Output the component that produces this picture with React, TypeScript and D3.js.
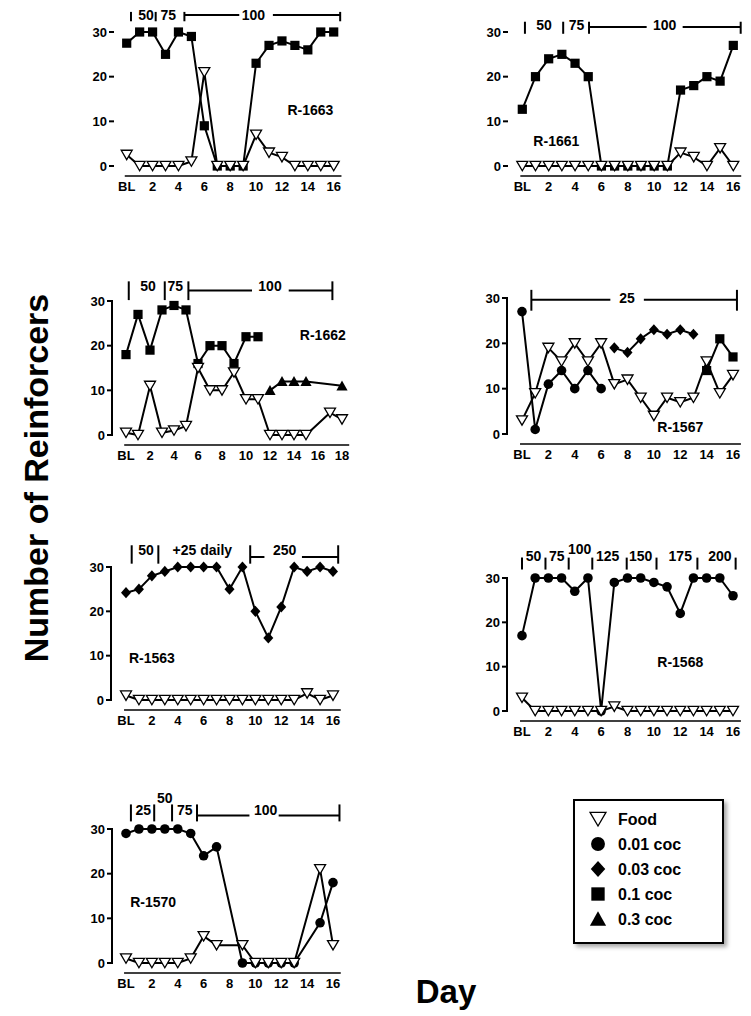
import React from 'react';
import * as d3 from 'd3';

const FONT = '"Liberation Sans", Arial, Helvetica, sans-serif';

type V = number | null;
type Ann = { k: 'tick' | 'text' | 'line'; d: number; d2?: number; t?: string; v?: number };

// ---------- R-1663 ----------
const r1663Food: V[] = [2.5, 0, 0, 0, 0, 1, 21, 0, 0, 0, 7, 3, 2, 0, 0, 0, 0];
const r1663Coc01: V[] = [27.5, 30, 30, 25, 30, 29, 9, 0, 0, 0, 23, 27, 28, 27, 26, 30, 30];
const r1663Doses: Ann[] = [
  { k: 'tick', d: 0.33 }, { k: 'text', d: 1.5, t: '50' }, { k: 'tick', d: 2.24 },
  { k: 'text', d: 3.22, t: '75' }, { k: 'tick', d: 4.46 }, { k: 'line', d: 4.46, d2: 8.7 },
  { k: 'text', d: 9.8, t: '100' }, { k: 'line', d: 11.3, d2: 16.5 }, { k: 'tick', d: 16.5 },
];

// ---------- R-1661 ----------
const r1661Food: V[] = [0, 0, 0, 0, 0, 0, 0, 0, 0, 0, 0, 0, 3, 2, 0, 4, 0];
const r1661Coc01: V[] = [12.7, 20, 24, 25, 23, 20, 0, 0, 0, 0, 0, 0, 17, 18, 20, 19, 27];
const r1661Doses: Ann[] = [
  { k: 'tick', d: 0.2 }, { k: 'text', d: 1.64, t: '50' }, { k: 'tick', d: 3.1 },
  { k: 'text', d: 4.12, t: '75' }, { k: 'tick', d: 5.06 }, { k: 'line', d: 5.06, d2: 9.43 },
  { k: 'text', d: 10.8, t: '100' }, { k: 'line', d: 12.16, d2: 16.56 }, { k: 'tick', d: 16.56 },
];

// ---------- R-1662 ----------
const r1662Food: V[] = [0.5, 0, 11, 0.5, 1, 2, 15, 10, 10, 14, 8, 8, 0, 0, 0, 0, null, 5, 3.5];
const r1662Coc01: V[] = [18, 27, 19, 28, 29, 28, 16, 20, 20, 16, 22, 22];
const r1662Coc03: V[] = [null, null, null, null, null, null, null, null, null, null, null, null, 10, 12, 12, 12, null, null, 11];
const r1662Doses: Ann[] = [
  { k: 'tick', d: 0.23 }, { k: 'text', d: 1.83, t: '50' }, { k: 'tick', d: 3.23 },
  { k: 'text', d: 4.1, t: '75' }, { k: 'tick', d: 5.2 }, { k: 'line', d: 5.2, d2: 10.5 },
  { k: 'text', d: 12.0, t: '100' }, { k: 'line', d: 13.56, d2: 17.2 }, { k: 'tick', d: 17.2 },
];

// ---------- R-1567 ----------
const r1567Food: V[] = [3, 9, 19, 16, 20, 16, 20, 11, 12, 8, 4, 8, 7, 8, 16, 9, 13];
const r1567Coc001: V[] = [27, 1, 11, 14, 10, 14, 10];
const r1567Coc003: V[] = [null, null, null, null, null, null, null, 19, 18, 21, 23, 22, 23, 22];
const r1567Coc01: V[] = [null, null, null, null, null, null, null, null, null, null, null, null, null, null, 14, 21, 17];
const r1567Doses: Ann[] = [
  { k: 'tick', d: 0.71 }, { k: 'line', d: 0.71, d2: 6.7 }, { k: 'text', d: 7.96, t: '25' },
  { k: 'line', d: 9.24, d2: 16.3 }, { k: 'tick', d: 16.3 },
];

// ---------- R-1563 ----------
const r1563Food: V[] = [1, 0, 0, 0, 0, 0, 0, 0, 0, 0, 0, 0, 0, 0, 1.5, 0, 1];
const r1563Coc003: V[] = [24.2, 25, 28, 29, 30, 30, 30, 30, 25, 30, 20, 14, 21, 30, 29, 30, 29];
const r1563Doses: Ann[] = [
  { k: 'tick', d: 0.44 }, { k: 'text', d: 1.54, t: '50' }, { k: 'tick', d: 2.5 },
  { k: 'text', d: 5.9, t: '+25 daily' }, { k: 'tick', d: 9.6 }, { k: 'line', d: 9.6, d2: 10.7 },
  { k: 'text', d: 12.26, t: '250' }, { k: 'line', d: 13.6, d2: 16.4 }, { k: 'tick', d: 16.4 },
];

// ---------- R-1568 ----------
const r1568Food: V[] = [3, 0, 0, 0, 0, 0, 0, 1, 0, 0, 0, 0, 0, 0, 0, 0, 0];
const r1568Coc001: V[] = [17, 30, 30, 30, 27, 30, 0, 29, 30, 30, 29, 28, 22, 30, 30, 30, 26];
const r1568Doses: Ann[] = [
  { k: 'tick', d: 0 }, { k: 'text', d: 0.88, t: '50' }, { k: 'tick', d: 1.78 },
  { k: 'text', d: 2.64, t: '75' }, { k: 'tick', d: 3.54 }, { k: 'text', d: 4.37, t: '100', v: 36.5 },
  { k: 'tick', d: 5.33 }, { k: 'text', d: 6.5, t: '125' }, { k: 'tick', d: 7.94 },
  { k: 'text', d: 9.0, t: '150' }, { k: 'tick', d: 10.2 }, { k: 'text', d: 12.0, t: '175' },
  { k: 'tick', d: 13.3 }, { k: 'text', d: 15.0, t: '200' }, { k: 'tick', d: 16.2 },
];

// ---------- R-1570 ----------
const r1570Food: V[] = [1, 0, 0, 0, 0, 1, 6, 4, null, 4, 0, 0, 0, 0, null, 21, 4];
const r1570Coc001: V[] = [29, 30, 30, 30, 30, 29, 24, 26, null, 0, 0, 0, 0, 0, null, 9, 18];
const r1570Doses: Ann[] = [
  { k: 'tick', d: 0.38 }, { k: 'text', d: 1.33, t: '25' }, { k: 'tick', d: 2.18 },
  { k: 'text', d: 3.0, t: '50', v: 37 }, { k: 'tick', d: 3.56 }, { k: 'text', d: 4.54, t: '75' },
  { k: 'tick', d: 5.49 }, { k: 'line', d: 5.49, d2: 9.54 }, { k: 'text', d: 10.8, t: '100' },
  { k: 'line', d: 11.8, d2: 16.5 }, { k: 'tick', d: 16.5 },
];

const yTicks = [0, 10, 20, 30];
const legendLabels = ['Food', '0.01 coc', '0.03 coc', '0.1 coc', '0.3 coc'];
const legendSymbols = ['food', 'circle', 'diamond', 'square', 'tri'];

type Sym = 'food' | 'circle' | 'diamond' | 'square' | 'tri';
type Series = { vals: V[]; sym: Sym };
type PanelCfg = {
  name: string; nameDay: number; nameV: number;
  x0: number; x1: number; dayMax: number; y0: number; y30: number; axisX: number; yLine: boolean;
  series: Series[]; doses: Ann[];
  textV: number; lineV: number; tickTop: number; tickBot: number;
};

const panels: PanelCfg[] = [
  { name: 'R-1663', nameDay: 14.2, nameV: 12.5, x0: 126.7, x1: 333.7, dayMax: 16, y0: 166, y30: 32, axisX: 114, yLine: false,
    series: [{ vals: r1663Coc01, sym: 'square' }, { vals: r1663Food, sym: 'food' }], doses: r1663Doses,
    textV: 33.8, lineV: 33.8, tickTop: 34.5, tickBot: 32.4 },
  { name: 'R-1661', nameDay: 2.58, nameV: 5.6, x0: 522.3, x1: 733.3, dayMax: 16, y0: 166, y30: 32, axisX: 508, yLine: false,
    series: [{ vals: r1661Coc01, sym: 'square' }, { vals: r1661Food, sym: 'food' }], doses: r1661Doses,
    textV: 31.5, lineV: 31.1, tickTop: 32.3, tickBot: 29.6 },
  { name: 'R-1662', nameDay: 16.4, nameV: 22.4, x0: 126, x1: 342, dayMax: 18, y0: 435, y30: 301, axisX: 112, yLine: true,
    series: [{ vals: r1662Coc01, sym: 'square' }, { vals: r1662Coc03, sym: 'tri' }, { vals: r1662Food, sym: 'food' }], doses: r1662Doses,
    textV: 33.3, lineV: 32.35, tickTop: 34.4, tickBot: 30.2 },
  { name: 'R-1567', nameDay: 12.0, nameV: 1.5, x0: 522, x1: 733, dayMax: 16, y0: 434, y30: 298, axisX: 507, yLine: true,
    series: [{ vals: r1567Coc001, sym: 'circle' }, { vals: r1567Coc003, sym: 'diamond' }, { vals: r1567Coc01, sym: 'square' }, { vals: r1567Food, sym: 'food' }], doses: r1567Doses,
    textV: 30, lineV: 29.6, tickTop: 31.8, tickBot: 27.2 },
  { name: 'R-1563', nameDay: 2.0, nameV: 9.5, x0: 126, x1: 333, dayMax: 16, y0: 700, y30: 567, axisX: 111, yLine: true,
    series: [{ vals: r1563Coc003, sym: 'diamond' }, { vals: r1563Food, sym: 'food' }], doses: r1563Doses,
    textV: 33.9, lineV: 32.25, tickTop: 34.9, tickBot: 30.75 },
  { name: 'R-1568', nameDay: 12, nameV: 11, x0: 522, x1: 733, dayMax: 16, y0: 711, y30: 578, axisX: 507, yLine: true,
    series: [{ vals: r1568Coc001, sym: 'circle' }, { vals: r1568Food, sym: 'food' }], doses: r1568Doses,
    textV: 35, lineV: 35, tickTop: 34.6, tickBot: 31.9 },
  { name: 'R-1570', nameDay: 2.1, nameV: 13.7, x0: 126, x1: 333, dayMax: 16, y0: 963, y30: 829, axisX: 112, yLine: true,
    series: [{ vals: r1570Coc001, sym: 'circle' }, { vals: r1570Food, sym: 'food' }], doses: r1570Doses,
    textV: 34.35, lineV: 33, tickTop: 35.5, tickBot: 31.7 },
];

function Marker({ sym, x, y, scale = 1 }: { sym: Sym; x: number; y: number; scale?: number }) {
  const t = `translate(${x},${y}) scale(${scale})`;
  if (sym === 'food') return <path transform={t} d="M-5.5,-4.6L5.5,-4.6L0,4.8Z" fill="#fff" stroke="#000" strokeWidth={1.3 / scale} strokeLinejoin="miter" />;
  if (sym === 'circle') return <circle transform={t} r={4.8} fill="#000" />;
  if (sym === 'square') return <rect transform={t} x={-4.6} y={-4.6} width={9.2} height={9.2} fill="#000" />;
  if (sym === 'diamond') return <path transform={t} d="M0,-5.6L5,0L0,5.6L-5,0Z" fill="#000" />;
  return <path transform={t} d="M0,-5.4L5.6,4.6L-5.6,4.6Z" fill="#000" />;
}

function Panel({ c }: { c: PanelCfg }) {
  const x = d3.scaleLinear().domain([0, c.dayMax]).range([c.x0, c.x1]);
  const y = d3.scaleLinear().domain([0, 30]).range([c.y0, c.y30]);
  const xTicks = d3.range(0, c.dayMax + 1, 2);
  const axisY = c.y0 + 10;
  const line = d3.line<[number, number]>().x(d => x(d[0])).y(d => y(d[1]));
  return (
    <g>
      {c.yLine && <line x1={c.axisX} x2={c.axisX} y1={y(0) + 1} y2={y(30) - 1} stroke="#000" strokeWidth={2} />}
      {yTicks.map(v => (
        <g key={v}>
          <line x1={c.axisX - 5} x2={c.axisX} y1={y(v)} y2={y(v)} stroke="#000" strokeWidth={2} />
          <text x={c.axisX - 7} y={y(v)} dy="0.36em" textAnchor="end" fontSize={13} fontWeight="bold" fontFamily={FONT}>{v}</text>
        </g>
      ))}
      <line x1={x(-0.15)} x2={x(c.dayMax + 0.6)} y1={axisY} y2={axisY} stroke="#000" strokeWidth={1.5} />
      {xTicks.map(d => (
        <text key={d} x={x(d)} y={axisY + 15} textAnchor="middle" fontSize={13} fontWeight="bold" fontFamily={FONT}>{d === 0 ? 'BL' : d}</text>
      ))}
      {c.series.map((s, i) => {
        const pts = s.vals.map((v, d) => [d, v] as [number, V]).filter(p => p[1] !== null) as [number, number][];
        return (
          <g key={i}>
            <path d={line(pts) || ''} fill="none" stroke="#000" strokeWidth={2} />
            {pts.map(p => <Marker key={p[0]} sym={s.sym} x={x(p[0])} y={y(p[1])} />)}
          </g>
        );
      })}
      <text x={x(c.nameDay)} y={y(c.nameV)} dy="0.36em" textAnchor="middle" fontSize={14} fontWeight="bold" fontFamily={FONT}>{c.name}</text>
      {c.doses.map((a, i) => {
        if (a.k === 'tick') return <line key={i} x1={x(a.d)} x2={x(a.d)} y1={y(c.tickTop)} y2={y(c.tickBot)} stroke="#000" strokeWidth={2} />;
        if (a.k === 'line') return <line key={i} x1={x(a.d)} x2={x(a.d2!)} y1={y(c.lineV)} y2={y(c.lineV)} stroke="#000" strokeWidth={2} />;
        return <text key={i} x={x(a.d)} y={y(a.v ?? c.textV)} dy="0.36em" textAnchor="middle" fontSize={14} fontWeight="bold" fontFamily={FONT}>{a.t}</text>;
      })}
    </g>
  );
}

export default function App() {
  const lx = 574, ly = 800, lw = 149, lh = 143;
  return (
    <svg width={751} height={1016} style={{ position: 'absolute', left: 0, top: 0, background: '#fff' }}>
      <defs>
        <filter id="sh" x="-10%" y="-10%" width="130%" height="130%">
          <feDropShadow dx={3} dy={3} stdDeviation={2} floodColor="#000" floodOpacity={0.35} />
        </filter>
      </defs>
      <rect width={751} height={1016} fill="#fff" />
      {panels.map(p => <Panel key={p.name} c={p} />)}
      <text transform="translate(36,478) rotate(-90)" textAnchor="middle" dy="0.36em" fontSize={34} fontWeight="bold" fontFamily={FONT}>Number of Reinforcers</text>
      <text x={446} y={1003} textAnchor="middle" fontSize={33} fontWeight="bold" fontFamily={FONT}>Day</text>
      <rect x={lx} y={ly} width={lw} height={lh} fill="#fff" stroke="#000" strokeWidth={2} filter="url(#sh)" />
      {legendLabels.map((t, i) => {
        const cy = ly + 19 + i * 25;
        return (
          <g key={t}>
            <Marker sym={legendSymbols[i] as Sym} x={lx + 24} y={cy} scale={1.45} />
            <text x={lx + 44} y={cy} dy="0.36em" fontSize={16} fontWeight="bold" fontFamily={FONT}>{t}</text>
          </g>
        );
      })}
    </svg>
  );
}
